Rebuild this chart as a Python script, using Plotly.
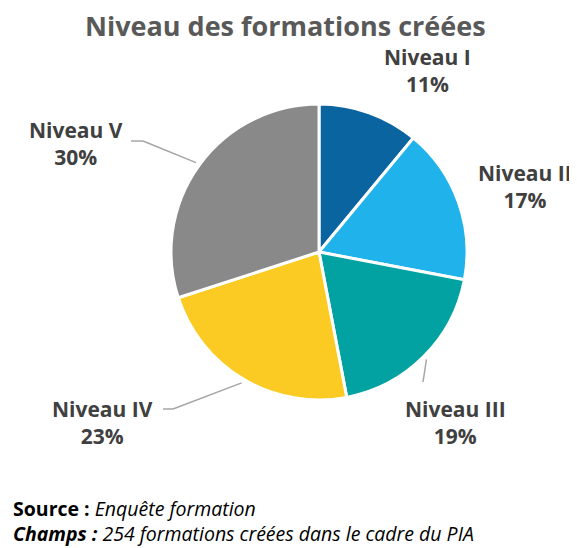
import math
import plotly.graph_objects as go

# ---- data ----
categories = ["Niveau I", "Niveau II", "Niveau III", "Niveau IV", "Niveau V"]
percentages = [11, 17, 19, 23, 30]
colors = ["#0A64A0", "#20B2EA", "#02A2A2", "#FBCB23", "#898989"]
title_text = "Niveau des formations créées"
source_label = "Source :"
source_text = "Enquête formation"
champs_label = "Champs :"
champs_text = "254 formations créées dans le cadre du PIA"

# ---- layout (pixels, in window coordinates) ----
WIN_W, WIN_H = 577, 548
OFF = 8  # default page body margin
W, H = WIN_W - OFF, WIN_H - OFF
CX, CY, R = 319, 252, 148
FONT = "Open Sans"

label_pos = {
    "Niveau I": (427, 70),
    "Niveau II": (525, 186),
    "Niveau III": (455, 422),
    "Niveau IV": (102, 422),
    "Niveau V": (76, 144),
}
leader_tail = {
    "Niveau III": [(423, 382)],
    "Niveau IV": [(173, 409), (163, 409)],
    "Niveau V": [(143, 141), (131, 141)],
}


def px(x, y):
    return (x - OFF) / W, 1 - (y - OFF) / H


fig = go.Figure(
    go.Pie(
        labels=categories,
        values=percentages,
        marker=dict(colors=colors, line=dict(color="white", width=3)),
        sort=False,
        direction="clockwise",
        rotation=0,
        textinfo="none",
        hoverinfo="label+percent",
        showlegend=False,
        domain=dict(
            x=[px(CX - R, 0)[0], px(CX + R, 0)[0]],
            y=[px(0, CY + R)[1], px(0, CY - R)[1]],
        ),
    )
)

annotations = []
shapes = []
total = sum(percentages)
cum = 0
for cat, v in zip(categories, percentages):
    mid = (cum + v / 2) / total * 2 * math.pi
    cum += v
    lx, ly = label_pos[cat]
    x, y = px(lx, ly)
    annotations.append(dict(
        x=x, y=y, xref="paper", yref="paper", showarrow=False,
        text=f"<b>{cat}</b><br><b>{v}%</b>",
        font=dict(family=FONT, size=21, color="#404040"),
        xanchor="center", yanchor="middle", align="center",
    ))
    if cat in leader_tail:
        sx = CX + 152 * math.sin(mid)
        sy = CY - 152 * math.cos(mid)
        pts = [(sx, sy)] + leader_tail[cat]
        for (x0, y0), (x1, y1) in zip(pts[:-1], pts[1:]):
            a0 = px(x0, y0)
            a1 = px(x1, y1)
            shapes.append(dict(type="line", xref="paper", yref="paper",
                               x0=a0[0], y0=a0[1], x1=a1[0], y1=a1[1],
                               line=dict(color="#A6A6A6", width=1.5)))

tx, ty = px(285, 26)
annotations.append(dict(
    x=tx, y=ty, xref="paper", yref="paper", showarrow=False,
    text=f"<b>{title_text}</b>",
    font=dict(family=FONT, size=27, color="#595959"),
    xanchor="center", yanchor="middle", borderpad=0,
))
ax, ay = px(12, 521)
annotations.append(dict(
    x=ax, y=ay, xref="paper", yref="paper", showarrow=False,
    text=(f"<b>{source_label}</b> <i>{source_text}</i><br>"
          f"<b><i>{champs_label}</i></b> <i>{champs_text}</i>"),
    font=dict(family=FONT, size=19.5, color="#000000"),
    xanchor="left", yanchor="middle", align="left", borderpad=0,
))

fig.update_layout(
    width=W, height=H,
    margin=dict(l=0, r=0, t=0, b=0),
    paper_bgcolor="white", plot_bgcolor="white",
    annotations=annotations, shapes=shapes,
)
fig.write_html("out.html")
